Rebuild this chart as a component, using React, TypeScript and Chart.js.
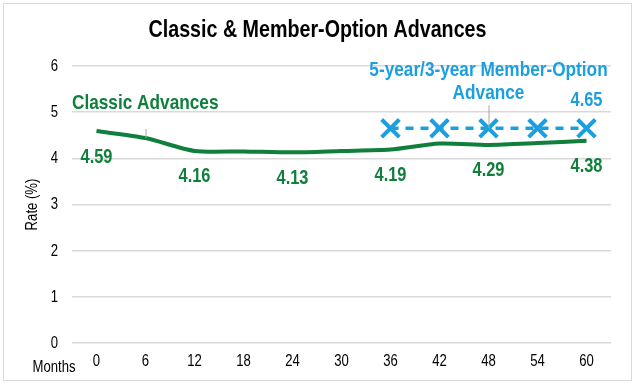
import React, { useEffect, useRef } from "react";
import { Chart, registerables } from "chart.js";

Chart.register(...registerables);

const MONTHS = ["0", "6", "12", "18", "24", "30", "36", "42", "48", "54", "60"];
const CLASSIC = [4.59, 4.44, 4.16, 4.15, 4.13, 4.16, 4.19, 4.32, 4.29, 4.33, 4.38];
const CLASSIC_LABELS = ["4.59", "", "4.16", "", "4.13", "", "4.19", "", "4.29", "", "4.38"];
const MEMBER_OPTION = [null, null, null, null, null, null, 4.65, 4.65, 4.65, 4.65, 4.65];
const MEMBER_LABELS = ["", "", "", "", "", "", "", "", "", "", "4.65"];
const Y_TICKS = [0, 1, 2, 3, 4, 5, 6];
const TITLE = "Classic & Member-Option Advances";
const CLASSIC_NAME = "Classic Advances";
const MEMBER_NAME = ["5-year/3-year Member-Option", "Advance"];
const Y_TITLE = "Rate (%)";
const X_TITLE = "Months";

const GREEN = "#0F7F3B";
const BLUE = "#1C9FDE";
const FONT = "'Liberation Sans', Arial, sans-serif";
const NARROW = 0.82;

function txt(
  ctx: CanvasRenderingContext2D,
  s: string,
  x: number,
  y: number,
  font: string,
  color: string,
  align: CanvasTextAlign = "center",
  rot = 0
) {
  ctx.save();
  ctx.translate(x, y);
  if (rot) ctx.rotate(rot);
  ctx.scale(NARROW, 1);
  ctx.font = font;
  ctx.fillStyle = color;
  ctx.textAlign = align;
  ctx.textBaseline = "middle";
  ctx.fillText(s, 0, 0);
  ctx.restore();
}

const overlay = {
  id: "overlay",
  beforeDraw(chart: any) {
    const ctx = chart.ctx;
    ctx.save();
    ctx.fillStyle = "#ffffff";
    ctx.fillRect(0, 0, chart.width, chart.height);
    ctx.strokeStyle = "#D9D9D9";
    ctx.lineWidth = 1;
    ctx.strokeRect(3.5, 3.5, chart.width - 7, chart.height - 8);
    ctx.restore();
  },
  afterDraw(chart: any) {
    const ctx = chart.ctx;
    const area = chart.chartArea;
    const xs = chart.scales.x;
    const ys = chart.scales.y;
    const axisFont = `16px ${FONT}`;
    // title
    txt(ctx, TITLE, chart.width / 2, 30, `bold 24px ${FONT}`, "#000");
    // y ticks
    ys.ticks.forEach((t: any) => {
      txt(ctx, String(t.value), area.left - 14, ys.getPixelForValue(t.value) + 0.5, axisFont, "#000", "right");
    });
    // x ticks
    xs.ticks.forEach((t: any, i: number) => {
      txt(ctx, String(xs.getLabelForValue(t.value)), xs.getPixelForTick(i), area.bottom + 19, axisFont, "#000");
    });
    // axis titles
    txt(ctx, Y_TITLE, 33, (area.top + area.bottom) / 2, axisFont, "#000", "center", -Math.PI / 2);
    txt(ctx, X_TITLE, 54, area.bottom + 25, axisFont, "#000");

    const g = chart.getDatasetMeta(0).data;
    const b = chart.getDatasetMeta(1).data;
    const labFont = `bold 20px ${FONT}`;
    const nameFont = `bold 21px ${FONT}`;
    CLASSIC_LABELS.forEach((t, i) => {
      if (t) txt(ctx, t, g[i].x, g[i].y + 26, labFont, GREEN);
    });
    MEMBER_LABELS.forEach((t, i) => {
      if (t) txt(ctx, t, b[i].x, b[i].y - 28, labFont, BLUE);
    });
    // series names
    txt(ctx, CLASSIC_NAME, area.left, g[0].y - 28, nameFont, GREEN, "left");
    const bx = b[8].x;
    txt(ctx, MEMBER_NAME[0], bx, b[8].y - 58, nameFont, BLUE);
    txt(ctx, MEMBER_NAME[1], bx, b[8].y - 35, nameFont, BLUE);
    // leader lines
    ctx.save();
    ctx.strokeStyle = "#A6A6A6";
    ctx.lineWidth = 1;
    ctx.beginPath();
    ctx.moveTo(g[1].x + 0.5, g[1].y - 9);
    ctx.lineTo(g[1].x + 0.5, g[1].y);
    ctx.moveTo(bx + 0.5, b[8].y - 23);
    ctx.lineTo(bx + 0.5, b[8].y);
    ctx.stroke();
    ctx.restore();
  },
};

export default function App() {
  const ref = useRef<HTMLCanvasElement>(null);
  useEffect(() => {
    document.body.style.margin = "0";
    const chart = new Chart(ref.current!, {
      type: "line",
      data: {
        labels: MONTHS,
        datasets: [
          {
            label: CLASSIC_NAME,
            data: CLASSIC,
            borderColor: GREEN,
            borderWidth: 4,
            pointRadius: 0,
            tension: 0.25,
            fill: false,
          },
          {
            label: MEMBER_NAME.join(" "),
            data: MEMBER_OPTION,
            borderColor: BLUE,
            borderWidth: 3.5,
            borderDash: [8, 7],
            pointStyle: "crossRot",
            pointRadius: 12.5,
            pointBorderWidth: 4,
            pointBorderColor: BLUE,
            pointBackgroundColor: BLUE,
            fill: false,
          },
        ],
      },
      options: {
        animation: false,
        responsive: false,
        layout: { padding: { left: 0, right: 24, top: 66, bottom: 0 } },
        plugins: {
          legend: { display: false },
          tooltip: { enabled: false },
          title: { display: false },
        },
        scales: {
          x: {
            offset: true,
            grid: { display: false, drawTicks: false },
            border: { display: false },
            ticks: { display: false },
            afterFit: (s: any) => {
              s.height = 42;
            },
          },
          y: {
            min: 0,
            max: 6,
            afterBuildTicks: (s: any) => {
              s.ticks = Y_TICKS.map((v) => ({ value: v }));
            },
            grid: { color: "#D9D9D9", lineWidth: 1.5, drawTicks: false },
            border: { display: false },
            ticks: { display: false },
            afterFit: (s: any) => {
              s.width = 72;
            },
          },
        },
      },
      plugins: [overlay],
    });
    return () => chart.destroy();
  }, []);
  return <canvas ref={ref} width={635} height={385} style={{ display: "block" }} />;
}
